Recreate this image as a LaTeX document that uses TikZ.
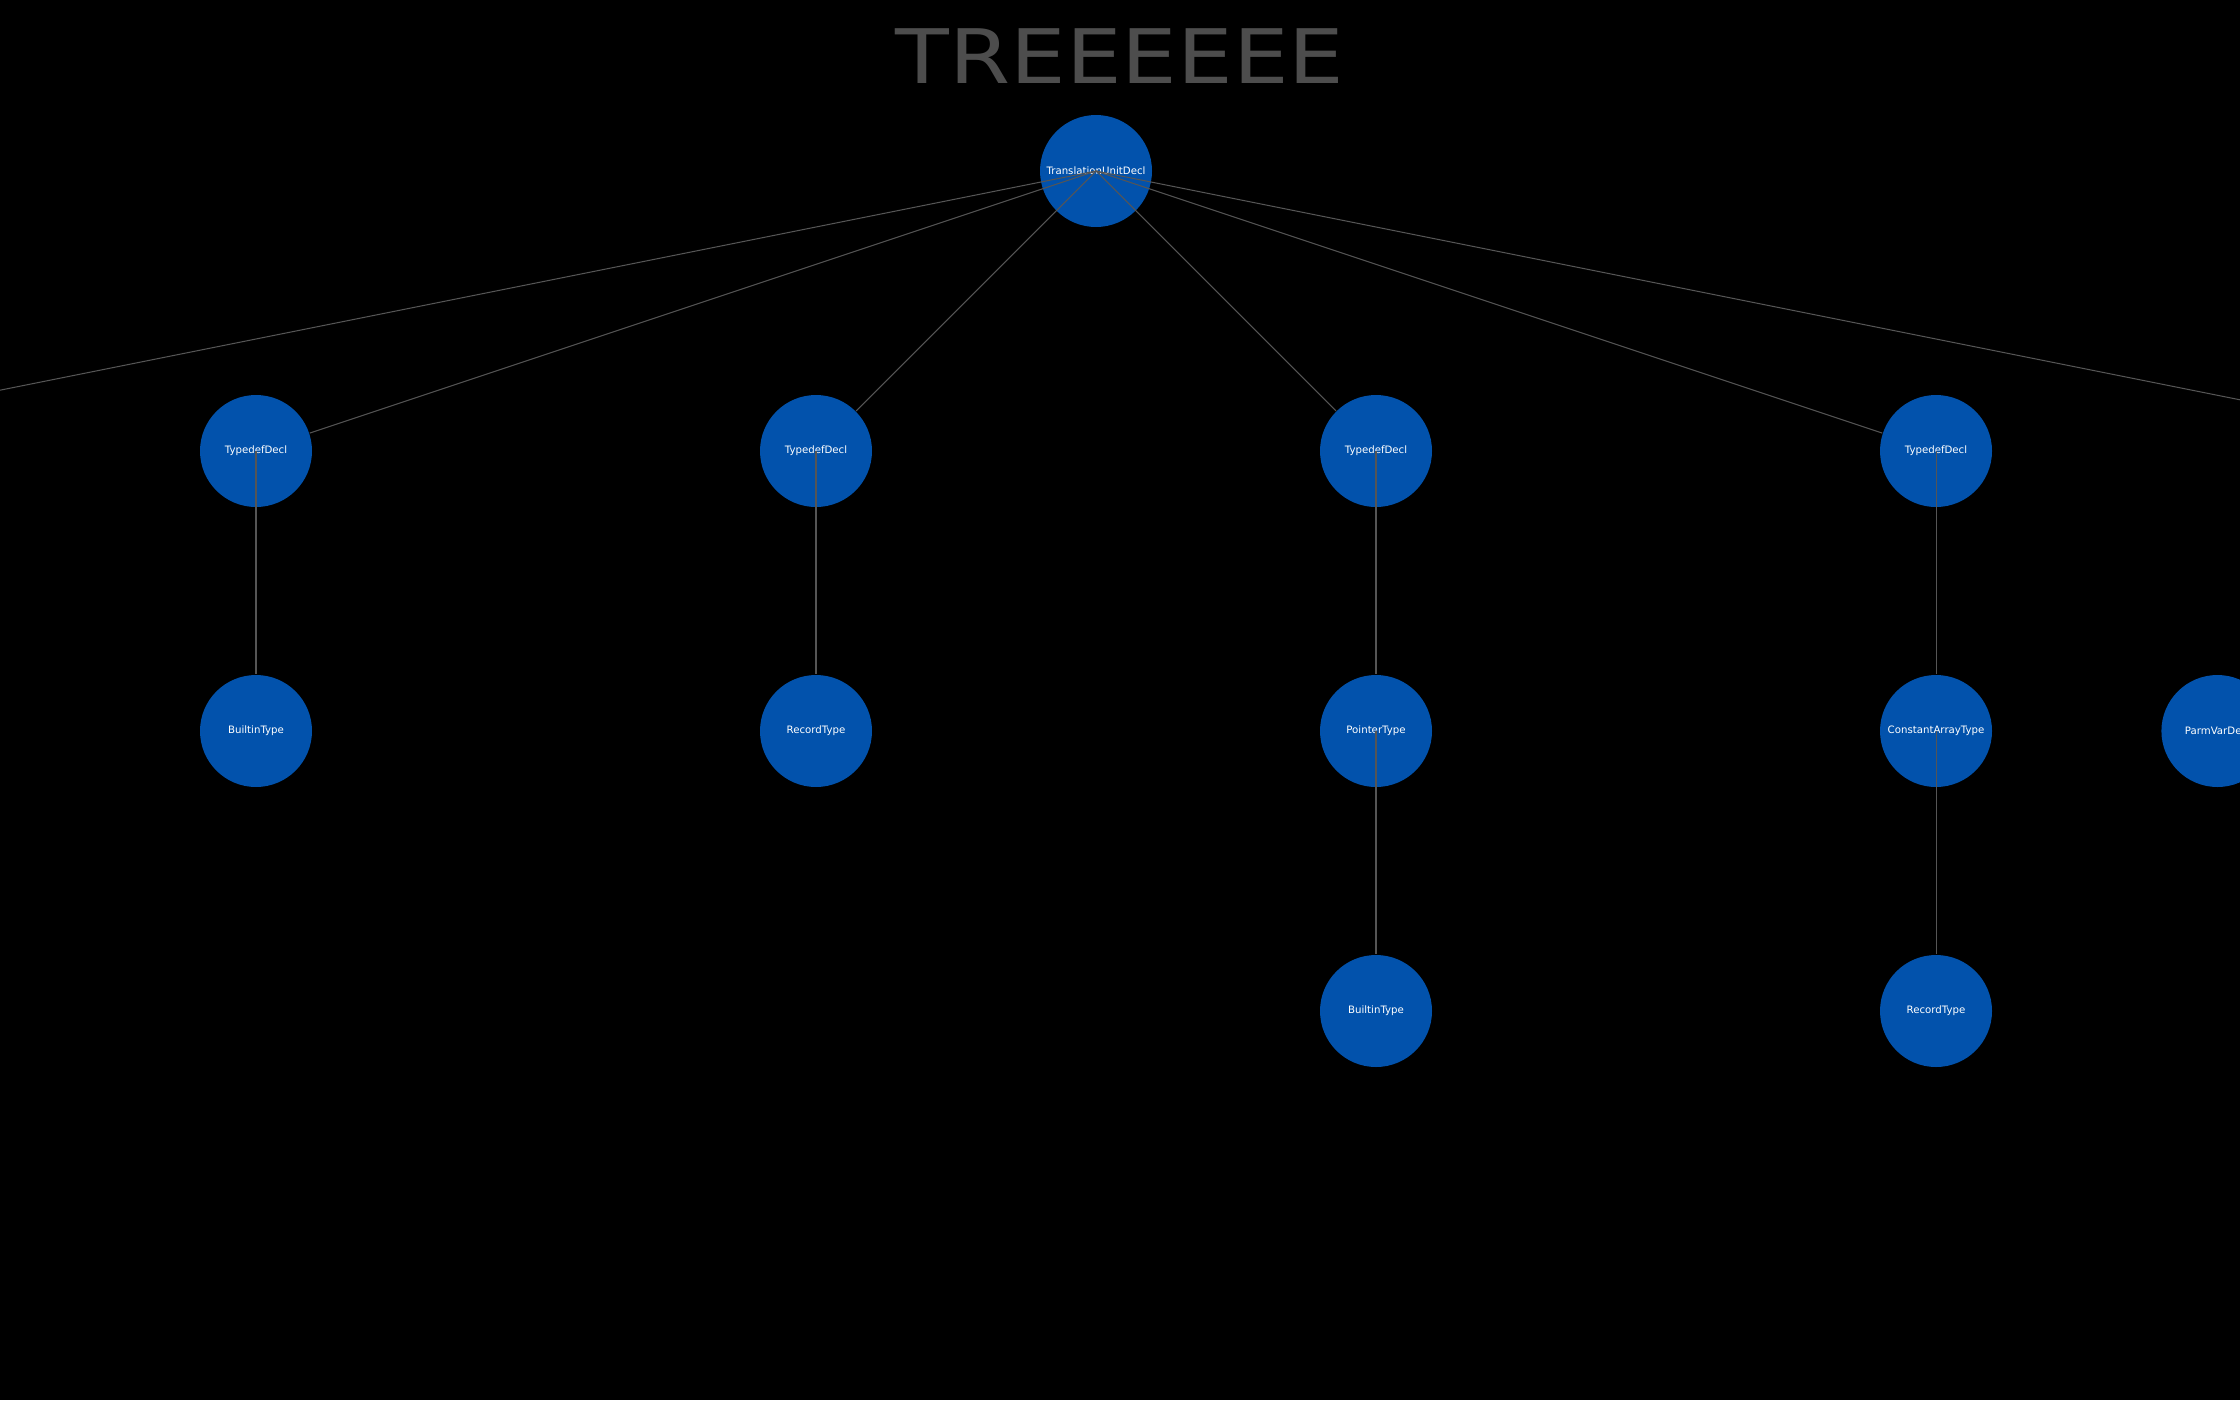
\documentclass[tikz,border=0pt]{standalone}
\usepackage{fontspec}
\setmainfont{DejaVu Sans}
\usetikzlibrary{positioning}
\definecolor{nodeblue}{HTML}{0252AC}
\definecolor{linegray}{HTML}{555555}
\definecolor{titlegray}{HTML}{4D4D4D}
\begin{document}
\begin{tikzpicture}[
            level distance=2.8cm,
            level 1/.style={sibling distance=5.6cm},
            edge from parent/.style={draw=none},
            ast/.style={circle,fill=nodeblue,minimum size=1.12cm,inner sep=0pt,text=white,font=\fontsize{2.9}{3.5}\selectfont},
            link/.style={draw=linegray,line width=0.3pt}
        ]
        \fill[black] (0,0) rectangle (22.4,-14);
        \useasboundingbox (0,0) rectangle (22.4,-14);

        \node[anchor=base,text=titlegray,inner sep=0pt,font=\fontsize{21.4}{24}\selectfont] (title) at (11.2,-0.83) {\scalebox{1.17}[1]{TREEEEEE}};

        \node[ast] (TU) at (10.96,-1.71) {TranslationUnitDecl}
        child {coordinate (L)}
        child {
                node[ast] (T1) {TypedefDecl}
                child {node[ast] (B1) {BuiltinType}}
            }
        child {
                node[ast] (T2) {TypedefDecl}
                child {node[ast] (R1) {RecordType}}
            }
        child {
                node[ast] (T3) {TypedefDecl}
                child {
                        node[ast] (P1) {PointerType}
                        child {node[ast] (B2) {BuiltinType}}
                    }
            }
        child {
                node[ast] (T4) {TypedefDecl}
                child {
                        node[ast] (C1) {ConstantArrayType}
                        child {node[ast] (R2) {RecordType}}
                    }
            }
        child {coordinate (R)};

        \node[ast, right=1.68cm of C1] (PV) {ParmVarDecl};

        % edges start at the parent's centre and stop at the child's rim
        \foreach \a/\b in {TU/L,TU/T1,TU/T2,TU/T3,TU/T4,TU/R,T1/B1,T2/R1,T3/P1,P1/B2,T4/C1,C1/R2}
            \draw[link] (\a.center) -- (\b);
    \end{tikzpicture}
\end{document}
